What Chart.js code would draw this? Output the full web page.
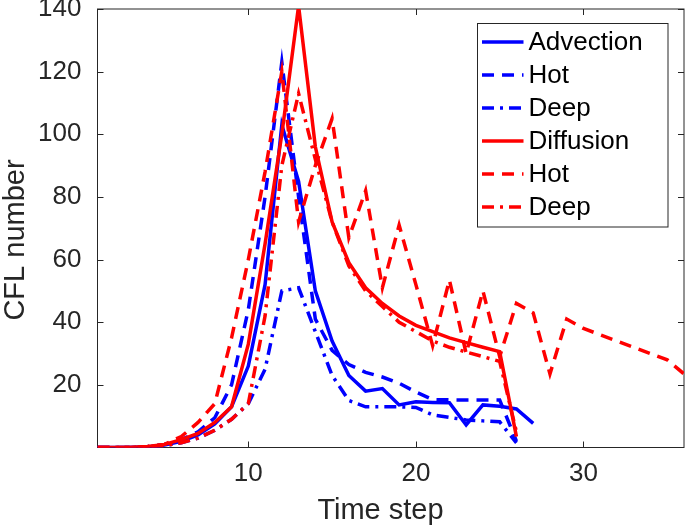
<!DOCTYPE html>
<html>
<head>
<meta charset="utf-8">
<script src="https://cdn.jsdelivr.net/npm/chart.js@4.4.0/dist/chart.umd.min.js"></script>
<style>
  html, body { margin: 0; padding: 0; background: #fff; }
  #wrap { width: 685px; height: 527px; }
</style>
</head>
<body>
<div id="wrap"><canvas id="cfl"></canvas></div>
<script>
// CFL number per time step

const STEPS = [1, 2, 3, 4, 5, 6, 7, 8, 9, 10, 11, 12, 13, 14, 15, 16, 17, 18,
               19, 20, 21, 22, 23, 24, 25, 26, 27, 28, 29, 30, 31, 32, 33, 34, 35, 36];

const ADVECTION = [0, 0, 0, 0.2, 0.8, 2, 4, 7.5, 13, 26, 52, 103, 85, 50, 34, 23, 18,
                   18.8, 13.6, 14.6, 14.4, 14.3, 7.2, 13.6, 13.2, 12.3, 7.7];
const ADV_HOT   = [0, 0, 0, 0.3, 1, 2.5, 5, 9.5, 20, 44, 80, 123, 80, 41, 31, 26.5, 24,
                   22.5, 20.5, 17.7, 15.3, 15.2, 15.2, 15.2, 15.2, 2];
const ADV_DEEP  = [0, 0, 0, 0.2, 0.6, 1.5, 3, 5.5, 9, 14, 25, 50, 51, 37, 23, 15, 13,
                   13, 13, 12.8, 10.4, 9.6, 8.8, 8.5, 8.2, 1.5];
const DIFFUSION = [0, 0, 0, 0.3, 1, 2.5, 4.5, 8, 13, 33, 65, 100, 141, 96, 72, 59, 51,
                   46, 42, 39, 37, 35, 33.5, 32, 30.6, 3.5];
const DIFF_HOT  = [0, 0, 0, 0.3, 1, 3.5, 8, 14, 35, 60, 88, 120, 72, 90, 105, 67, 82,
                   51, 71, 52, 32.5, 53.5, 30, 50, 29, 46, 43, 23.5, 41, 38, 36, 34, 32,
                   30, 28, 23.5];
const DIFF_DEEP = [0, 0, 0, 0.2, 0.6, 1.5, 3, 5.5, 9, 14, 42, 90, 113, 92, 72, 58, 50,
                   45, 40, 37, 34, 32, 30.5, 29, 27.5, 5];

const X_TICKS = [10, 20, 30];
const Y_TICKS = [20, 40, 60, 80, 100, 120, 140];

const BLUE = '#0000ff';
const RED  = '#ff0000';
const INK  = '#262626';
const FONT = "'Liberation Sans', Arial, Helvetica, sans-serif";

const DASHED  = [12, 8];
const DASHDOT = [12, 6, 3, 6];

const toPoints = arr => arr.map((v, i) => ({ x: STEPS[i], y: v }));

// later series are painted over earlier ones, like plot() with hold on
function line(label, values, color, dash, order) {
  return {
    label,
    data: toPoints(values),
    borderColor: color,
    backgroundColor: color,
    borderDash: dash,
    borderWidth: 3.5,
    pointRadius: 0,
    tension: 0,
    fill: false,
    order,
  };
}

// MATLAB-style box with inward ticks on all four sides
const boxFrame = {
  id: 'boxFrame',
  beforeDatasetsDraw(chart) {
    const { ctx, chartArea: a, scales } = chart;
    ctx.save();
    ctx.strokeStyle = INK;
    ctx.lineWidth = 1;
    ctx.strokeRect(a.left, a.top, a.right - a.left, a.bottom - a.top);
    ctx.beginPath();
    X_TICKS.forEach(v => {
      const px = Math.round(scales.x.getPixelForValue(v)) + 0.5;
      ctx.moveTo(px, a.bottom); ctx.lineTo(px, a.bottom - 6);
      ctx.moveTo(px, a.top);    ctx.lineTo(px, a.top + 6);
    });
    Y_TICKS.forEach(v => {
      const py = Math.round(scales.y.getPixelForValue(v)) + 0.5;
      ctx.moveTo(a.left, py);  ctx.lineTo(a.left + 6, py);
      ctx.moveTo(a.right, py); ctx.lineTo(a.right - 6, py);
    });
    ctx.stroke();
    ctx.restore();
  },
  afterDraw(chart) {
    const { ctx } = chart;
    ctx.save();
    ctx.fillStyle = INK;
    ctx.font = `29px ${FONT}`;
    ctx.textAlign = 'center';
    ctx.textBaseline = 'alphabetic';
    ctx.fillText('Time step', 380.5, 519);
    ctx.translate(23.5, 240);
    ctx.rotate(-Math.PI / 2);
    ctx.fillText('CFL number', 0, 0);
    ctx.restore();
  },
};

// boxed legend in the upper right of the plot
const boxLegend = {
  id: 'boxLegend',
  afterDraw(chart) {
    const { ctx, chartArea: a } = chart;
    const left = a.right - 207, top = a.top + 13.5, w = 190.5, h = 203.5;
    ctx.save();
    ctx.fillStyle = '#fff';
    ctx.fillRect(left, top, w, h);
    ctx.strokeStyle = INK;
    ctx.lineWidth = 1;
    ctx.strokeRect(Math.round(left) + 0.5, Math.round(top) + 0.5, w, h);
    ctx.font = `26px ${FONT}`;
    ctx.textBaseline = 'middle';
    chart.data.datasets.forEach((ds, i) => {
      const y = top + 19.5 + i * 33;
      ctx.strokeStyle = ds.borderColor;
      ctx.lineWidth = ds.borderWidth;
      ctx.setLineDash(ds.borderDash);
      ctx.beginPath();
      ctx.moveTo(left + 5, y);
      ctx.lineTo(left + 46.5, y);
      ctx.stroke();
      ctx.setLineDash([]);
      ctx.fillStyle = '#000';
      ctx.fillText(ds.label, left + 51.5, y + 1);
    });
    ctx.restore();
  },
};

new Chart(document.getElementById('cfl'), {
  type: 'line',
  data: {
    datasets: [
      line('Advection', ADVECTION, BLUE, [],      5),
      line('Hot',       ADV_HOT,   BLUE, DASHED,  4),
      line('Deep',      ADV_DEEP,  BLUE, DASHDOT, 3),
      line('Diffusion', DIFFUSION, RED,  [],      2),
      line('Hot',       DIFF_HOT,  RED,  DASHED,  1),
      line('Deep',      DIFF_DEEP, RED,  DASHDOT, 0),
    ],
  },
  options: {
    responsive: true,
    maintainAspectRatio: false,
    animation: false,
    layout: { padding: { top: 9, right: 1, left: 0, bottom: 0 } },
    plugins: {
      legend: { display: false },
      tooltip: { enabled: false },
    },
    scales: {
      x: {
        type: 'linear',
        min: 1,
        max: 36,
        grid: { display: false, drawTicks: false },
        border: { display: false },
        afterBuildTicks: s => { s.ticks = X_TICKS.map(v => ({ value: v })); },
        afterFit: s => { s.height = 79.5; s.paddingLeft = 0; s.paddingRight = 0; },
        ticks: { color: INK, padding: 11, maxRotation: 0, font: { family: FONT, size: 26 } },
      },
      y: {
        min: 0,
        max: 140,
        grid: { display: false, drawTicks: false },
        border: { display: false },
        afterBuildTicks: s => { s.ticks = Y_TICKS.map(v => ({ value: v })); },
        afterFit: s => { s.width = 97.5; s.paddingTop = 0; s.paddingBottom = 0; },
        ticks: { color: INK, padding: 16, font: { family: FONT, size: 26 } },
      },
    },
  },
  plugins: [boxFrame, boxLegend],
});
</script>
</body>
</html>
